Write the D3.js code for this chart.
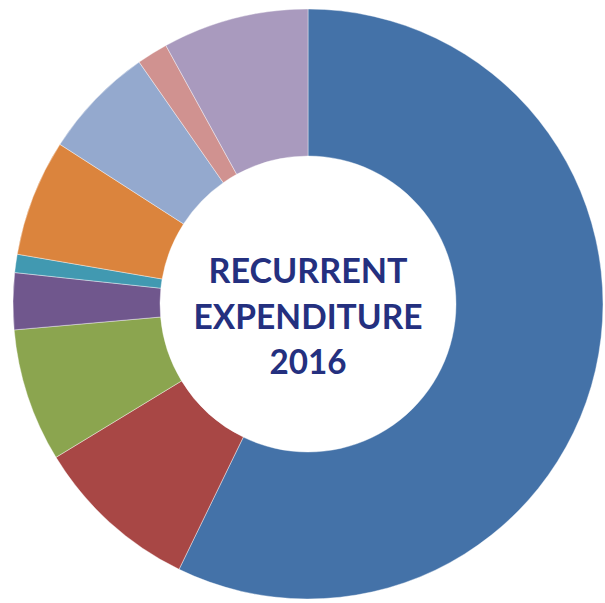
<!DOCTYPE html>
<html>
<head>
<meta charset="utf-8">
<script src="https://cdn.jsdelivr.net/npm/d3@7"></script>
<style>
  html, body { margin: 0; padding: 0; background: #fff; }
  svg { display: block; }
</style>
</head>
<body>
<div class="donut"></div>
<script>
// shares of recurrent expenditure, clockwise from 12 o'clock (percent)
const categories = ['Item 1', 'Item 2', 'Item 3', 'Item 4', 'Item 5', 'Item 6', 'Item 7', 'Item 8', 'Item 9']
const shares = [57.2, 9.1, 7.3, 3.1, 1.0, 6.4, 6.2, 1.7, 8.0]
const colours = ['#4472a8', '#a84745', '#8ba54f', '#70578d', '#4199b1', '#db843d', '#94a9ce', '#d09290', '#a99abe']
const titleLines = ['RECURRENT', 'EXPENDITURE', '2016']

const width = 605
const height = 603
const cx = 308
const cy = 304
const outer = 295
const inner = 148

const data = categories.map((c, i) => ({ name: c, value: shares[i] }))

const pie = d3
  .pie()
  .value(d => d.value)
  .sort(null)

const arc = d3
  .arc()
  .innerRadius(inner)
  .outerRadius(outer)

const colour = d3.scaleOrdinal().domain(categories).range(colours)

const svg = d3
  .select('.donut')
  .append('svg')
  .attr('width', width)
  .attr('height', height)

const g = svg.append('g').attr('transform', `translate(${cx},${cy})`)

g.selectAll('path')
  .data(pie(data))
  .enter()
  .append('path')
  .attr('d', arc)
  .attr('fill', d => colour(d.data.name))
  .attr('stroke', '#fff')
  .attr('stroke-width', 0.4)

// title in the hole
const baselines = [-21, 25, 70]
const lengths = [199, 229, 77]

g.selectAll('text')
  .data(titleLines)
  .enter()
  .append('text')
  .attr('x', 0)
  .attr('y', (d, i) => baselines[i])
  .attr('text-anchor', 'middle')
  .attr('font-family', 'Lato, "Noto Sans", sans-serif')
  .attr('font-weight', 700)
  .attr('font-size', 35)
  .attr('fill', '#24307f')
  .attr('textLength', (d, i) => lengths[i])
  .attr('lengthAdjust', 'spacingAndGlyphs')
  .text(d => d)
</script>
</body>
</html>
